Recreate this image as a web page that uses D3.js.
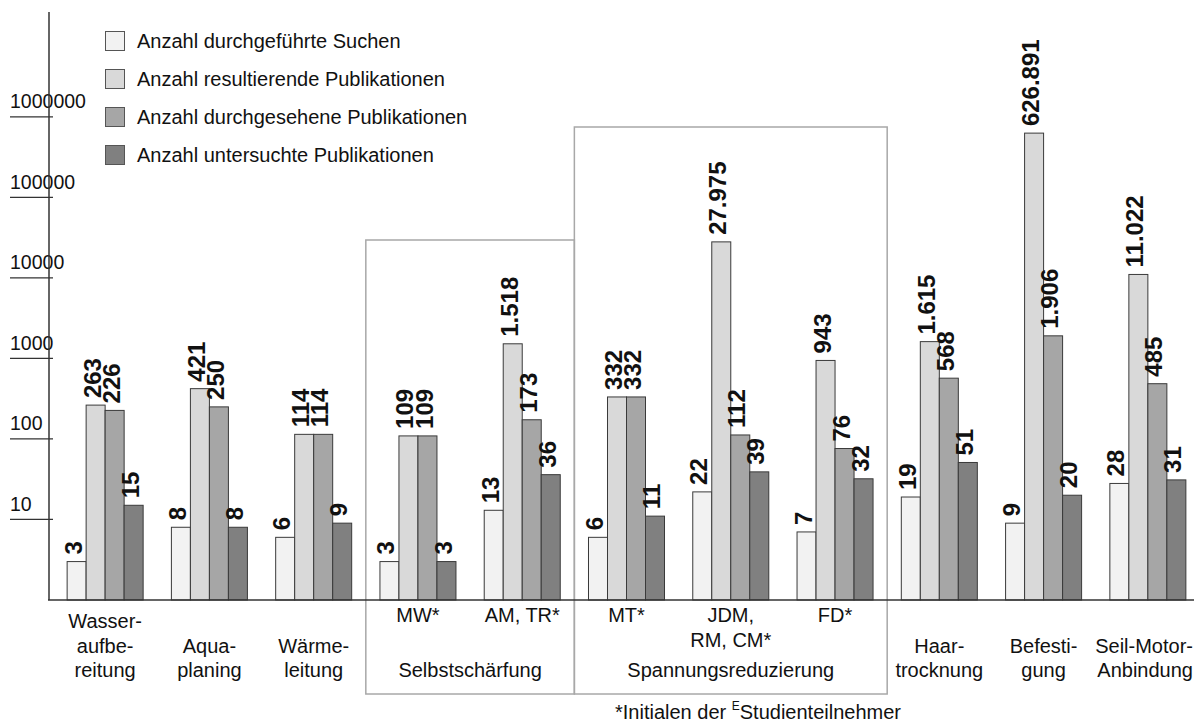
<!DOCTYPE html>
<html>
<head>
<meta charset="utf-8">
<script src="https://cdn.jsdelivr.net/npm/d3@7"></script>
<style>
  html, body { margin: 0; padding: 0; background: #fff; }
  svg { display: block; font-family: "Liberation Sans", Arial, sans-serif; }
</style>
</head>
<body>
<svg id="chart" width="1194" height="728"></svg>
<script>
// Categories (one group of bars each); lines are drawn stacked, last line at the bottom
const categories = ["wasser", "aqua", "waerme", "mw", "amtr", "mt", "jdm", "fd", "haar", "befestigung", "seil"];
const categoryLines = [
  ["Wasser-", "aufbe-", "reitung"],
  ["Aqua-", "planing"],
  ["Wärme-", "leitung"],
  ["MW*"],
  ["AM, TR*"],
  ["MT*"],
  ["JDM,", "RM, CM*"],
  ["FD*"],
  ["Haar-", "trocknung"],
  ["Befesti-", "gung"],
  ["Seil-Motor-", "Anbindung"]
];
// Categories that belong to a framed group, with the group title
const groupNames = ["Selbstschärfung", "Spannungsreduzierung"];
const groupMembers = [["mw", "amtr"], ["mt", "jdm", "fd"]];

// Series
const seriesNames = [
  "Anzahl durchgeführte Suchen",
  "Anzahl resultierende Publikationen",
  "Anzahl durchgesehene Publikationen",
  "Anzahl untersuchte Publikationen"
];
const searches    = [3, 8, 6, 3, 13, 6, 22, 7, 19, 9, 28];
const resulting   = [263, 421, 114, 109, 1518, 332, 27975, 943, 1615, 626891, 11022];
const reviewed    = [226, 250, 114, 109, 173, 332, 112, 76, 568, 1906, 485];
const examined    = [15, 8, 9, 3, 36, 11, 39, 32, 51, 20, 31];
const seriesValues = [searches, resulting, reviewed, examined];

// Y axis tick values and labels
const yTicks = [10, 100, 1000, 10000, 100000, 1000000];
const yTickLabels = ["10", "100", "1000", "10000", "100000", "1000000"];

const footnote = "*Initialen der ";
const footnoteSup = "E";
const footnoteTail = "Studienteilnehmer";

// ---- layout ----
const W = 1194;
const colors = ["#f2f2f2", "#d9d9d9", "#a6a6a6", "#808080"];
const svg = d3.select("#chart");
const baseY = 600, topY = 12, axisX = 49;

const y = d3.scaleLog().domain([1, 2e7]).range([baseY, topY]);
const x = d3.scaleBand().domain(categories).range([53, 1200])
  .paddingInner(0.271).paddingOuter(0.1355);
const xs = d3.scaleBand().domain(d3.range(seriesNames.length)).range([0, x.bandwidth()]);
const step = x.step();

const de = d3.formatLocale({decimal: ",", thousands: ".", grouping: [3], currency: ["", " €"]});
const fmt = de.format(",d");

// group frames (behind everything)
const groupTops = [240, 127];
groupMembers.forEach((m, i) => {
  const x0 = x(m[0]) + x.bandwidth() / 2 - step / 2;
  const x1 = x(m[m.length - 1]) + x.bandwidth() / 2 + step / 2;
  svg.append("rect")
    .attr("x", x0).attr("y", groupTops[i])
    .attr("width", x1 - x0).attr("height", 694 - groupTops[i])
    .attr("fill", "none").attr("stroke", "#a8a8a8").attr("stroke-width", 1.5);
  svg.append("text")
    .attr("x", (x0 + x1) / 2).attr("y", 677)
    .attr("text-anchor", "middle").attr("font-size", 20).attr("fill", "#111")
    .text(groupNames[i]);
});

// y ticks: short lines crossing the axis, labels sitting on them
const yt = svg.append("g");
yTicks.forEach((t, i) => {
  yt.append("line")
    .attr("x1", 10).attr("x2", 53).attr("y1", y(t)).attr("y2", y(t))
    .attr("stroke", "#333").attr("stroke-width", 1.2);
  yt.append("text")
    .attr("x", 10).attr("y", y(t) - 8.5)
    .attr("font-size", 19.5).attr("fill", "#111")
    .text(yTickLabels[i]);
});

// bars
const groups = svg.append("g").selectAll("g")
  .data(categories).join("g")
  .attr("transform", d => `translate(${x(d)},0)`);

groups.each(function(cat, ci) {
  const g = d3.select(this);
  seriesValues.forEach((vals, si) => {
    const v = vals[ci];
    const bx = xs(si);
    g.append("rect")
      .attr("x", bx).attr("y", y(v))
      .attr("width", xs.bandwidth()).attr("height", y(1) - y(v))
      .attr("fill", colors[si]).attr("stroke", "#3a3a3a").attr("stroke-width", 1);
    const cx = bx + xs.bandwidth() / 2;
    const ty = y(v) - 7;
    g.append("text")
      .attr("transform", `translate(${cx},${ty}) rotate(-90)`)
      .attr("dy", "0.21em")
      .attr("font-size", 24).attr("font-weight", "bold").attr("fill", "#111")
      .text(fmt(v));
  });
});

// axes lines
svg.append("line").attr("x1", axisX).attr("x2", axisX).attr("y1", topY).attr("y2", baseY)
  .attr("stroke", "#333").attr("stroke-width", 1.5);
svg.append("line").attr("x1", 48).attr("x2", W).attr("y1", baseY).attr("y2", baseY)
  .attr("stroke", "#333").attr("stroke-width", 1.5);

// category labels (kept inside the right edge)
const grouped = new Set(groupMembers.flat());
categories.forEach((c, i) => {
  const lines = categoryLines[i];
  const cx = x(c) + x.bandwidth() / 2;
  const t = svg.append("text").attr("text-anchor", "middle").attr("font-size", 20).attr("fill", "#111");
  const spans = [];
  if (grouped.has(c)) {
    lines.forEach((l, k) => spans.push(t.append("tspan").attr("x", cx).attr("y", 622 + k * 25).text(l)));
  } else {
    const n = lines.length;
    lines.forEach((l, k) => spans.push(t.append("tspan").attr("x", cx).attr("y", 677 - (n - 1 - k) * 24.5).text(l)));
  }
  spans.forEach(s => {
    const half = s.node().getComputedTextLength() / 2;
    if (cx + half > W - 1) s.attr("x", W - 1 - half);
  });
});

// legend
const lg = svg.append("g");
seriesNames.forEach((s, i) => {
  const ly = 31 + i * 38;
  lg.append("rect").attr("x", 105.5).attr("y", ly + 0.5).attr("width", 19).attr("height", 19)
    .attr("fill", colors[i]).attr("stroke", "#555").attr("stroke-width", 1);
  lg.append("text").attr("x", 137).attr("y", ly + 17).attr("font-size", 20).attr("fill", "#111").text(s);
});

// footnote
const fn = svg.append("text").attr("x", 758).attr("y", 719).attr("text-anchor", "middle")
  .attr("font-size", 20).attr("fill", "#111");
fn.append("tspan").text(footnote);
fn.append("tspan").attr("font-size", 12).attr("dy", -9).text(footnoteSup);
fn.append("tspan").attr("dy", 9).text(footnoteTail);
</script>
</body>
</html>
